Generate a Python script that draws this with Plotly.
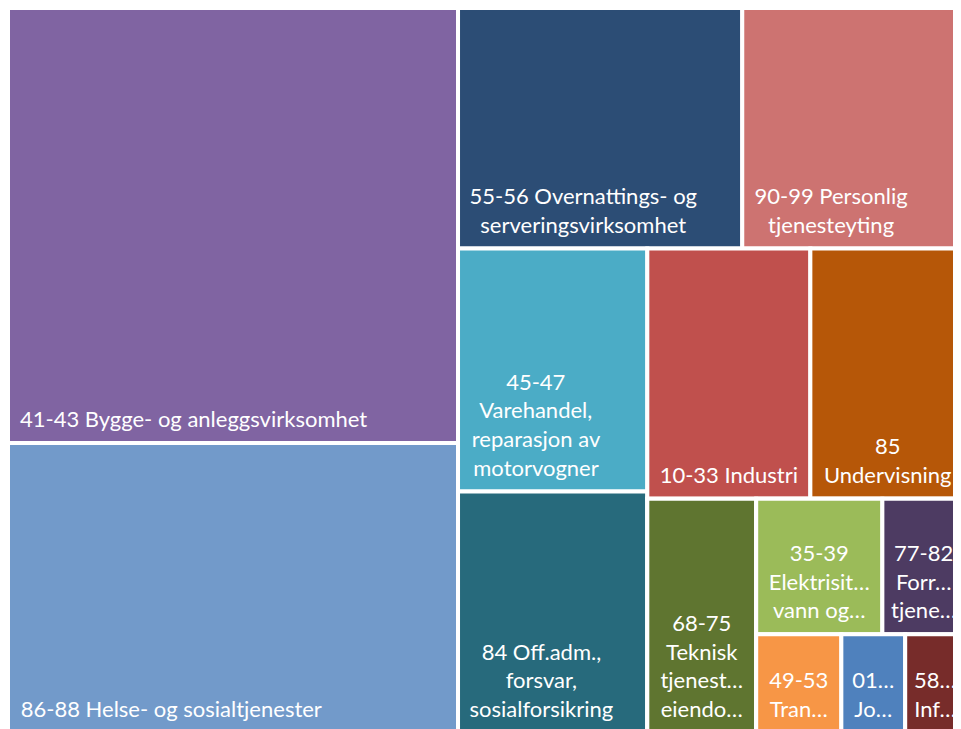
import plotly.graph_objects as go

# ---- data ----
codes = ["41-43", "86-88", "55-56", "90-99", "45-47", "84", "10-33", "85",
         "68-75", "35-39", "77-82", "49-53", "01-03", "58-63"]
names = ["Bygge- og anleggsvirksomhet", "Helse- og sosialtjenester",
         "Overnattings- og serveringsvirksomhet", "Personlig tjenesteyting",
         "Varehandel, reparasjon av motorvogner", "Off.adm., forsvar, sosialforsikring",
         "Industri", "Undervisning", "Teknisk tjenesteyting, eiendomsdrift",
         "Elektrisitet, vann og renovasjon", "Forretningsmessig tjenesteyting",
         "Transport og lagring", "Jordbruk, skogbruk og fiske",
         "Informasjon og kommunikasjon"]
values = [1958, 1305, 684, 536, 460, 457, 408, 387, 255, 171, 112, 84, 63, 59]
colors = ["#8064A2", "#729ACA", "#2C4D75", "#CD7371", "#4BACC6", "#276A7C",
          "#C0504D", "#B65708", "#5F7530", "#9BBB59", "#4D3B62", "#F79646",
          "#4F81BD", "#772C2A"]
# label lines as shown in the tiles (wrapped / truncated as in the picture)
shown_lines = [
    ["41-43 Bygge- og anleggsvirksomhet"],
    ["86-88 Helse- og sosialtjenester"],
    ["55-56 Overnattings- og", "serveringsvirksomhet"],
    ["90-99 Personlig", "tjenesteyting"],
    ["45-47", "Varehandel,", "reparasjon av", "motorvogner"],
    ["84 Off.adm.,", "forsvar,", "sosialforsikring"],
    ["10-33 Industri"],
    ["85", "Undervisning"],
    ["68-75", "Teknisk", "tjenest…", "eiendo…"],
    ["35-39", "Elektrisit…", "vann og…"],
    ["77-82", "Forr…", "tjene…"],
    ["49-53", "Tran…"],
    ["01…", "Jo…"],
    ["58…", "Inf…"],
]
# grouping that reproduces the reference's tile arrangement
parent_of = ["", "", "", "", "", "", "", "", "g1", "g2", "g2", "g2", "g2", "g2"]
group_ids = ["g1", "g2"]
group_parents = ["", "g1"]

# styling: shift of each label block toward the tile's left side (in spaces)
label_shift = [14, 22, 6, 8, 6, 4, 0, 0, 0, 0, 0, 0, 0, 0]
# a wide blank on both sides of the last line lifts the label off the tile's bottom edge
LIFT = '<span style="font-size:60px">\u00a0</span>'


def make_text(lines, shift):
    pad = "\u00a0" * shift
    out = [ln + pad for ln in lines]
    out[-1] = LIFT + out[-1] + LIFT
    return "<br>".join(out)


ids, labels, parents, vals, cols, texts = [], [], [], [], [], []


def add_leaf(i):
    ids.append(codes[i]); labels.append(codes[i] + " " + names[i])
    parents.append(parent_of[i]); vals.append(values[i]); cols.append(colors[i])
    texts.append(make_text(shown_lines[i], label_shift[i]))


for i in range(8):
    add_leaf(i)
for g, gp in zip(group_ids, group_parents):
    ids.append(g); labels.append(""); parents.append(gp); vals.append(0)
    cols.append("#FFFFFF"); texts.append("")
    for i in range(8, len(codes)):
        if parent_of[i] == g:
            add_leaf(i)

fig = go.Figure(go.Treemap(
    ids=ids, labels=labels, parents=parents, values=vals,
    branchvalues="remainder", sort=False,
    text=texts, texttemplate="%{text}", textposition="bottom center",
    insidetextfont=dict(family="Lato", size=22, color="white"),
    marker=dict(colors=cols, line=dict(color="white", width=4),
                pad=dict(t=0, l=0, r=0, b=0), depthfade=False),
    tiling=dict(packing="squarify", pad=0),
    pathbar=dict(visible=False),
    hovertemplate="%{label}: %{value}<extra></extra>",
))
fig.update_layout(
    width=957, height=725,
    margin=dict(l=0, t=0, r=0, b=0),
    paper_bgcolor="white",
    uniformtext=dict(minsize=22, mode="show"),
    font=dict(family="Lato"),
)
fig.write_html("out.html")
